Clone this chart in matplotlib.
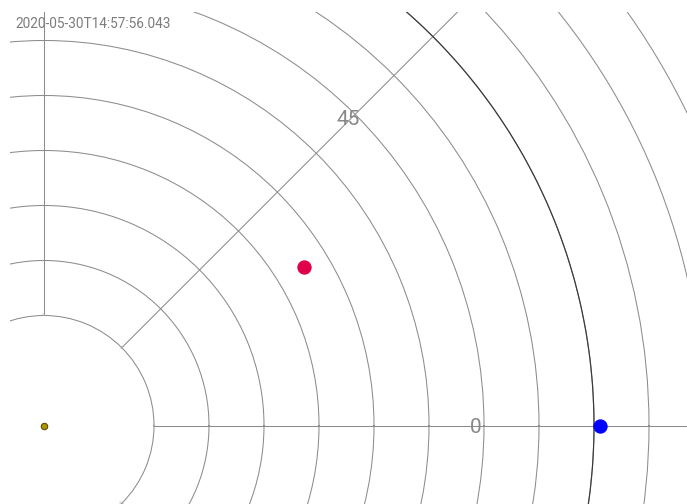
import numpy as np
import matplotlib
matplotlib.use("Agg")
import matplotlib.pyplot as plt
from matplotlib.patches import Rectangle

# ---- data ----
timestamp = "2020-05-30T14:57:56.043"
body_names = ["Sun", "Mercury", "Earth"]
body_r = [0.0, 0.5536, 1.011]          # distance (AU)
body_theta_deg = [0.0, 31.47, 0.0]      # heliocentric angle (deg)
body_colors = ["#b09400", "#e0004a", "#0000ff"]
body_edges = ["#5e4c00", "#e0004a", "#0000ff"]
body_sizes = [4.6, 9.5, 9.5]
orbit_r = [1.0]
grid_r = [0.3, 0.4, 0.5, 0.6, 0.7, 0.8, 0.9, 1.0, 1.1, 1.2, 1.3, 1.4, 1.5]
spoke_deg = [0, 45, 90, 135, 180, 225, 270, 315]
angle_label_deg = [-0.3, 45.2]
angle_label_text = ["0", "45"]
small_label_deg = [90, 45, 0, 315]
small_label_text = ["90", "45", "0", "315"]

# ---- layout ----
W, H = 687, 504
fig = plt.figure(figsize=(W / 100, H / 100), dpi=100)
cx, cy = 44.0, H - 425.5
px_per_au = 550.0
r_min, r_max = 0.2, 1.6
R = r_max * px_per_au
ax = fig.add_axes([(cx - R) / W, (cy - R) / H, 2 * R / W, 2 * R / H],
                  projection="polar")
ax.set_rorigin(0)
ax.set_rlim(r_min, r_max)
ax.set_facecolor("white")

ax.set_rgrids(grid_r, labels=[""] * len(grid_r))
ax.set_thetagrids(spoke_deg, labels=[""] * len(spoke_deg))
ax.grid(True, color="#8c8c8c", linewidth=0.75)
for name, sp in ax.spines.items():
    if name == "inner":
        sp.set_color("#8c8c8c")
        sp.set_linewidth(0.75)
    else:
        sp.set_visible(False)
ax.tick_params(length=0)

# orbit of Earth
th = np.linspace(0, 2 * np.pi, 720)
for r in orbit_r:
    ax.plot(th, np.full_like(th, r), color="#3a3a3a", linewidth=0.85, zorder=3)

# bodies
for r, t, c, e, s in zip(body_r, body_theta_deg, body_colors, body_edges, body_sizes):
    ax.plot(np.radians(t), r, "o", color=c, markeredgecolor=e,
            markersize=s, markeredgewidth=0.8, clip_on=False, zorder=5)

# angle labels
for d, txt in zip(angle_label_deg, angle_label_text):
    ax.text(np.radians(d), 0.785, txt, ha="center", va="center",
            fontsize=15, color="#888888", family="Roboto", zorder=6)
for d, txt in zip(small_label_deg, small_label_text):
    ax.text(np.radians(d), r_min, txt, ha="center", va="center",
            fontsize=2.5, color="#bbbbbb", family="Roboto", zorder=6,
            clip_on=False)

# clip margins (left and top)
fig.add_artist(Rectangle((0, 0), 10 / W, 1, transform=fig.transFigure,
                         facecolor="white", edgecolor="none", zorder=10))
fig.add_artist(Rectangle((0, 1 - 12 / H), 1, 12 / H, transform=fig.transFigure,
                         facecolor="white", edgecolor="none", zorder=10))

fig.text(15 / W, 1 - 24 / H, timestamp, ha="left", va="center",
         fontsize=9.8, color="#7c7c7c", family="Roboto", zorder=11)

fig.savefig("out.png", dpi=100, facecolor="white")
